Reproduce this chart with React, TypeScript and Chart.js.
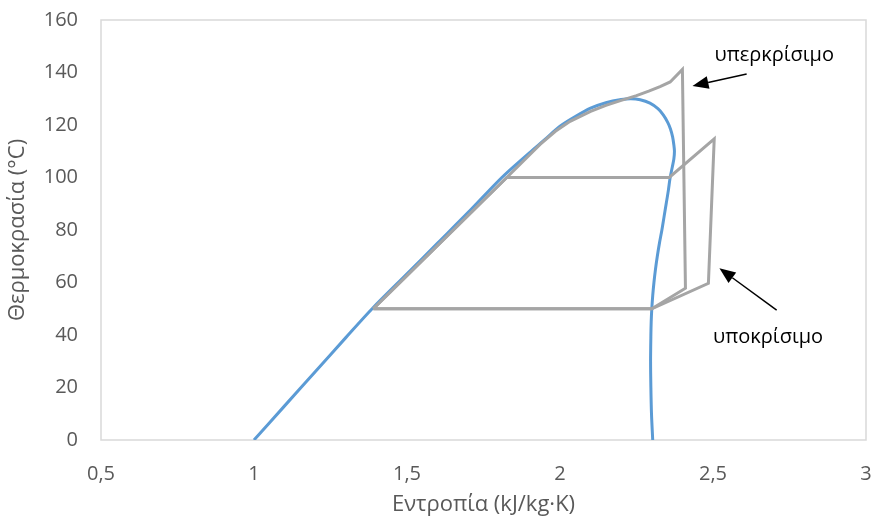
import React, { useEffect, useRef } from "react";
import { Chart, registerables } from "chart.js";

Chart.register(...registerables);

// Saturation dome (blue)
const satS = [1.0, 1.1, 1.2, 1.3, 1.386, 1.5, 1.6, 1.7, 1.81, 1.9, 1.95, 2.0, 2.05, 2.1, 2.15, 2.2, 2.232, 2.262, 2.294, 2.32, 2.338, 2.352, 2.361, 2.368, 2.372, 2.374, 2.372, 2.367, 2.36, 2.354, 2.347, 2.34, 2.333, 2.325, 2.318, 2.312, 2.307, 2.303, 2.3, 2.298, 2.297, 2.296, 2.297, 2.299, 2.303];
const satT = [0, 13, 26, 39, 50, 63.3, 75, 86.7, 100, 109.4, 114.4, 119.5, 123.2, 126.4, 128.5, 129.7, 130, 129.6, 128.3, 126.2, 123.8, 121, 118.5, 115.5, 112.5, 110, 107, 104, 100, 95, 90, 85, 80, 75, 70, 65, 60, 55, 50, 45, 40, 30, 20, 10, 0];

// Subcritical cycle (grey)
const subS = [1.39, 1.826, 2.357, 2.504, 2.485, 2.3, 1.39];
const subT = [50, 100, 100, 114.7, 59.7, 50, 50];

// Supercritical cycle (grey)
const superS = [1.39, 1.826, 1.935, 1.985, 2.033, 2.1, 2.15, 2.2, 2.25, 2.29, 2.327, 2.36, 2.4, 2.41, 2.3, 1.39];
const superT = [50, 100, 112.6, 117.6, 121.4, 125.2, 127.5, 129.4, 131.2, 132.9, 134.6, 136.4, 141.2, 57.8, 50, 50];

// Axis ticks
const xTicks = [0.5, 1, 1.5, 2, 2.5, 3];
const xTickLabels = ["0,5", "1", "1,5", "2", "2,5", "3"];
const yTicks = [0, 20, 40, 60, 80, 100, 120, 140, 160];

// Annotations (data coordinates)
const noteTexts = ["υπερκρίσιμο", "υποκρίσιμο"];
const noteS = [2.7, 2.68];
const noteT = [146.7, 39.2];
const arrowFromS = [2.61, 2.708];
const arrowFromT = [139.4, 49.5];
const arrowToS = [2.433, 2.521];
const arrowToT = [134.9, 65.4];

const FONT = "'Open Sans', 'Noto Sans', 'DejaVu Sans', sans-serif";

const toPts = (xs: number[], ys: number[]) => xs.map((x, i) => ({ x, y: ys[i] }));

const framePlugin = {
  id: "frameAndNotes",
  beforeDatasetsDraw(chart: any) {
    const { ctx, chartArea } = chart;
    ctx.save();
    ctx.strokeStyle = "#D9D9D9";
    ctx.lineWidth = 1.5;
    ctx.strokeRect(chartArea.left, chartArea.top, chartArea.right - chartArea.left, chartArea.bottom - chartArea.top);
    ctx.restore();
  },
  afterDatasetsDraw(chart: any) {
    const { ctx } = chart;
    const xs = chart.scales.x;
    const ys = chart.scales.y;
    ctx.save();
    for (let i = 0; i < noteTexts.length; i++) {
      const x1 = xs.getPixelForValue(arrowFromS[i]);
      const y1 = ys.getPixelForValue(arrowFromT[i]);
      const x2 = xs.getPixelForValue(arrowToS[i]);
      const y2 = ys.getPixelForValue(arrowToT[i]);
      const ang = Math.atan2(y2 - y1, x2 - x1);
      const headLen = 16;
      const headW = 6.5;
      const bx = x2 - headLen * Math.cos(ang);
      const by = y2 - headLen * Math.sin(ang);
      ctx.strokeStyle = "#000";
      ctx.lineWidth = 1.5;
      ctx.beginPath();
      ctx.moveTo(x1, y1);
      ctx.lineTo(bx, by);
      ctx.stroke();
      ctx.fillStyle = "#000";
      ctx.beginPath();
      ctx.moveTo(x2, y2);
      ctx.lineTo(bx + headW * Math.sin(ang), by - headW * Math.cos(ang));
      ctx.lineTo(bx - headW * Math.sin(ang), by + headW * Math.cos(ang));
      ctx.closePath();
      ctx.fill();

      ctx.font = `20px ${FONT}`;
      ctx.textAlign = "center";
      ctx.textBaseline = "middle";
      ctx.fillStyle = "#000";
      ctx.fillText(noteTexts[i], xs.getPixelForValue(noteS[i]), ys.getPixelForValue(noteT[i]));
    }
    ctx.restore();
  },
};

export default function App() {
  const ref = useRef<HTMLCanvasElement | null>(null);

  useEffect(() => {
    if (!ref.current) return;
    const chart = new Chart(ref.current, {
      type: "scatter",
      data: {
        datasets: [
          {
            data: toPts(satS, satT),
            showLine: true,
            borderColor: "#5B9BD5",
            borderWidth: 3,
            pointRadius: 0,
            tension: 0.3,
            order: 2,
          },
          {
            data: toPts(subS, subT),
            showLine: true,
            borderColor: "#A5A5A5",
            borderWidth: 3,
            pointRadius: 0,
            tension: 0,
            order: 1,
          },
          {
            data: toPts(superS, superT),
            showLine: true,
            borderColor: "#A5A5A5",
            borderWidth: 3,
            pointRadius: 0,
            tension: 0,
            order: 0,
          },
        ],
      },
      options: {
        animation: false,
        responsive: true,
        maintainAspectRatio: false,
        layout: { padding: { left: 0, right: 9, top: 20, bottom: 0 } },
        plugins: { legend: { display: false }, tooltip: { enabled: false } },
        scales: {
          x: {
            type: "linear",
            min: 0.5,
            max: 3,
            afterFit: (s: any) => {
              s.height = 79;
              s.paddingLeft = 0;
              s.paddingRight = 0;
            },
            afterBuildTicks: (s: any) => {
              s.ticks = xTicks.map((v) => ({ value: v }));
            },
            grid: { display: false, drawTicks: false },
            border: { display: false },
            ticks: {
              padding: 22,
              color: "#595959",
              font: { family: FONT, size: 20 },
              callback: (v: any) => {
                const i = xTicks.indexOf(Number(v));
                return i >= 0 ? xTickLabels[i] : "";
              },
            },
            title: {
              display: true,
              text: "Εντροπία (kJ/kg·K)",
              color: "#595959",
              font: { family: FONT, size: 22 },
              padding: { top: 0, bottom: 1 },
            },
          },
          y: {
            type: "linear",
            min: 0,
            max: 160,
            afterFit: (s: any) => {
              s.width = 101;
              s.paddingTop = 0;
              s.paddingBottom = 0;
            },
            afterBuildTicks: (s: any) => {
              s.ticks = yTicks.map((v) => ({ value: v }));
            },
            grid: { display: false, drawTicks: false },
            border: { display: false },
            ticks: {
              padding: 23,
              color: "#595959",
              font: { family: FONT, size: 20 },
            },
            title: {
              display: true,
              text: "Θερμοκρασία (°C)",
              color: "#595959",
              font: { family: FONT, size: 22 },
              padding: { top: 5, bottom: 0 },
            },
          },
        },
      },
      plugins: [framePlugin],
    });
    return () => chart.destroy();
  }, []);

  return (
    <div style={{ position: "fixed", left: 0, top: 0, width: 875, height: 519, background: "#fff" }}>
      <canvas ref={ref} />
    </div>
  );
}
